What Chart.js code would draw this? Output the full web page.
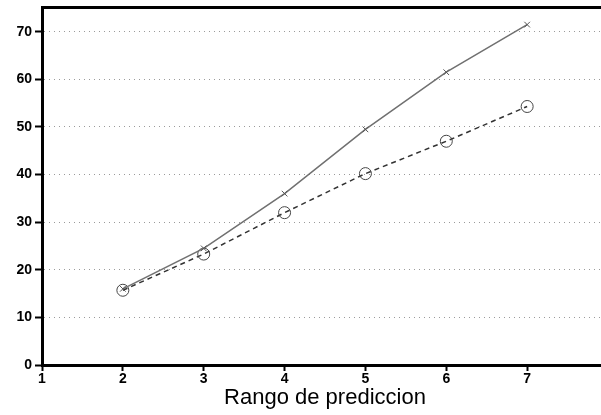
<!DOCTYPE html>
<html>
<head>
<meta charset="utf-8">
<script src="https://cdn.jsdelivr.net/npm/chart.js@4"></script>
<style>
  html, body { margin: 0; padding: 0; background: #fff; overflow: hidden; }
  #wrap { width: 620px; height: 415px; }
</style>
</head>
<body>
<div id="wrap"><canvas id="rangoChart" width="620" height="415"></canvas></div>
<script>
const rango = [2, 3, 4, 5, 6, 7];
const serieSolida = [16, 24.5, 36, 49.5, 61.5, 71.5];
const serieDiscontinua = [15.7, 23.3, 32, 40.2, 47, 54.3];
const axisTitle = 'Rango de prediccion';

const toPoints = (xs, ys) => xs.map((x, i) => ({ x: x, y: ys[i] }));

const tickFont = { family: 'Liberation Sans', size: 14, weight: 'bold' };

// drop the automatic padding Chart.js reserves for half tick labels
function noPad(scale) {
    scale.paddingTop = 0;
    scale.paddingBottom = 0;
    scale.paddingLeft = 0;
    scale.paddingRight = 0;
}

const rangoChart = {
    type: 'line',
    data: {
        datasets: [{
            label: 'solida',
            data: toPoints(rango, serieSolida),
            borderColor: '#707070',
            borderWidth: 1.5,
            pointStyle: 'crossRot',
            pointRadius: 4,
            pointBorderColor: '#555',
            pointBorderWidth: 1,
            tension: 0,
        }, {
            label: 'discontinua',
            data: toPoints(rango, serieDiscontinua),
            borderColor: '#333',
            borderWidth: 1.5,
            borderDash: [5, 4],
            pointStyle: 'circle',
            pointRadius: 6,
            pointBorderColor: '#444',
            pointBackgroundColor: 'rgba(0,0,0,0)',
            pointBorderWidth: 1,
            tension: 0,
        }]
    },
    options: {
        responsive: false,
        animation: false,
        layout: { padding: { top: 0, right: 12, bottom: 0, left: 0 } },
        plugins: {
            legend: { display: false },
            tooltip: { enabled: false },
        },
        scales: {
            x: {
                type: 'linear',
                position: 'bottom',
                min: 1,
                max: 8,
                ticks: { stepSize: 1, color: '#000', font: tickFont, padding: 0, maxRotation: 0 },
                grid: { drawOnChartArea: false, tickLength: 6, tickColor: '#000', tickWidth: 2 },
                border: { color: '#000', width: 3 },
                title: {
                    display: true,
                    text: axisTitle,
                    color: '#000',
                    font: { family: 'Liberation Sans', size: 22 },
                    padding: { top: 0, bottom: 4 },
                },
                afterFit: (scale) => { scale.height = 50; scale.paddingLeft = 0; scale.paddingRight = 0; },
            },
            xTop: {
                type: 'linear',
                position: 'top',
                min: 1,
                max: 8,
                ticks: { display: false },
                grid: { drawOnChartArea: false, drawTicks: false },
                border: { color: '#000', width: 3 },
                afterFit: (scale) => { scale.height = 5; noPad(scale); },
            },
            y: {
                min: 0,
                max: 75.2,
                ticks: { stepSize: 10, color: '#000', font: tickFont, padding: 3 },
                afterBuildTicks: (scale) => {
                    scale.ticks = scale.ticks.filter(t => t.value % 10 === 0);
                },
                grid: {
                    color: (ctx) => ctx.tick && ctx.tick.value === 0 ? 'rgba(0,0,0,0)' : '#9a9a9a',
                    lineWidth: 1,
                    tickLength: 7,
                    tickColor: '#000',
                    tickWidth: 2,
                },
                border: { color: '#000', width: 3, dash: [1, 4] },
                afterFit: (scale) => { scale.width = 42; noPad(scale); },
            }
        }
    }
};

const chart1 = new Chart(document.getElementById('rangoChart'), rangoChart);
</script>
</body>
</html>
